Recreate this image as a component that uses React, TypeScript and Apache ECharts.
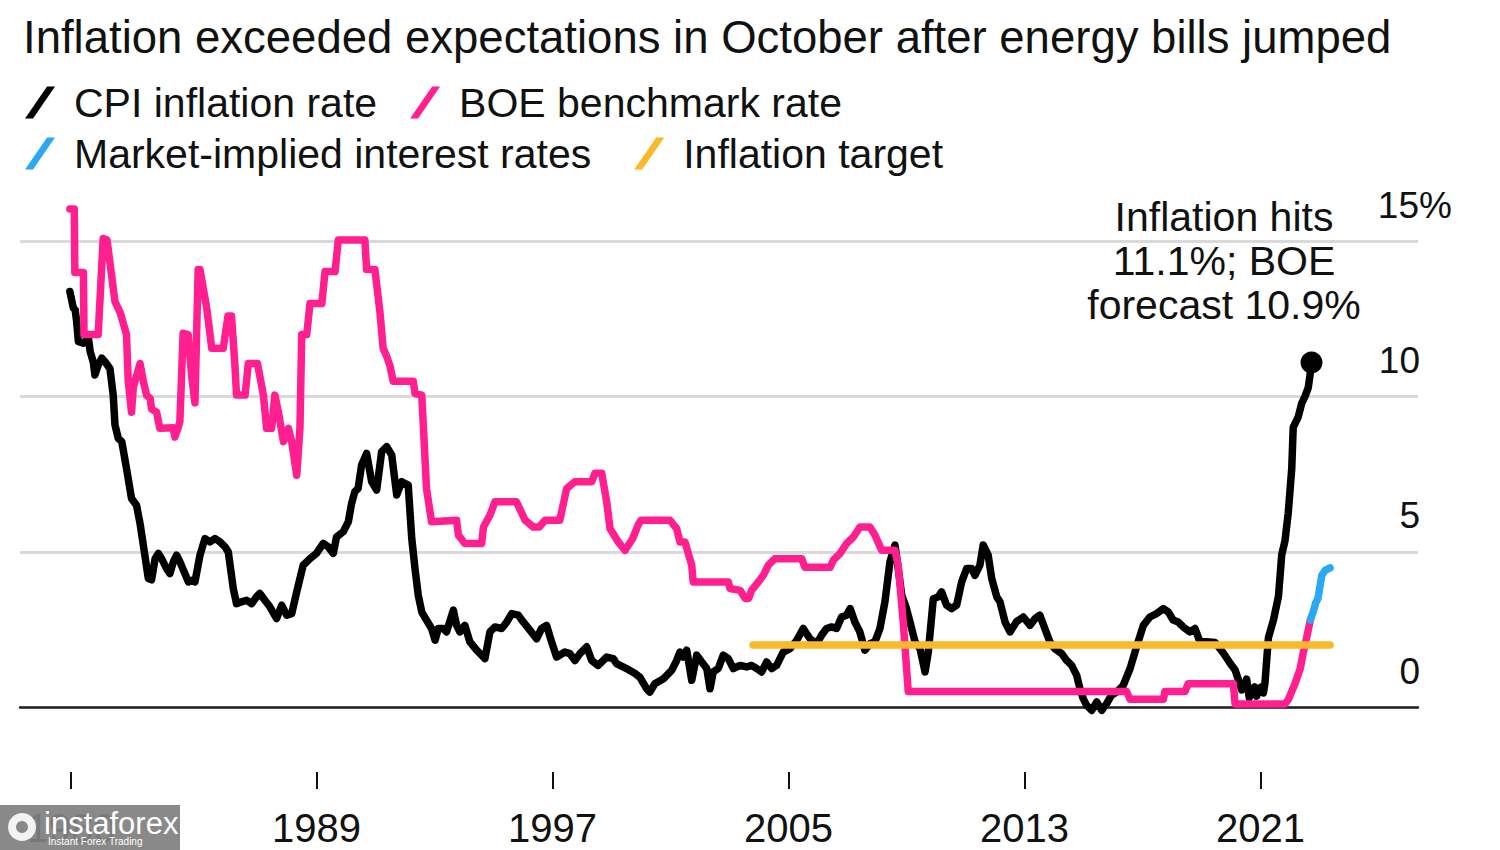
import React, { useEffect, useRef } from 'react';
import * as echarts from 'echarts';

const FONT = "'Liberation Sans', Arial, Helvetica, sans-serif";

const titleText = 'Inflation exceeded expectations in October after energy bills jumped';
const seriesNames = ['CPI inflation rate', 'BOE benchmark rate', 'Market-implied interest rates', 'Inflation target'];
const seriesColors = ['#000000', '#ff1f8e', '#2aa8f2', '#f9b92b'];
const annotationLines = ['Inflation hits', '11.1%; BOE', 'forecast 10.9%'];

const xTickValues = [1980.68, 1989, 1997, 2005, 2013, 2021];
const xTickLabels = ['1980', '1989', '1997', '2005', '2013', '2021'];
const yTickValues = [0, 5, 10, 15];

// CPI inflation rate, [year, %]
const cpi: number[][] = [
  [1980.64, 13.39], [1980.76, 12.85], [1980.82, 12.8], [1980.87, 12.42], [1980.93, 11.77], [1981.1, 11.72],
  [1981.27, 11.88], [1981.33, 11.45], [1981.43, 11.13], [1981.49, 10.7], [1981.6, 11.02], [1981.72, 11.24],
  [1981.83, 11.13], [1982.0, 10.9], [1982.11, 10.05], [1982.17, 9.09], [1982.28, 8.66], [1982.4, 8.55],
  [1982.56, 7.69], [1982.73, 6.72], [1982.9, 6.5], [1983.02, 5.91], [1983.13, 5.22], [1983.3, 4.14],
  [1983.41, 4.1], [1983.53, 4.78], [1983.64, 4.95], [1983.75, 4.78], [1983.92, 4.46], [1984.03, 4.3],
  [1984.15, 4.68], [1984.26, 4.89], [1984.37, 4.68], [1984.49, 4.41], [1984.66, 4.03], [1984.77, 4.08],
  [1984.88, 4.03], [1985.05, 4.89], [1985.22, 5.43], [1985.39, 5.32], [1985.56, 5.43], [1985.73, 5.32],
  [1985.9, 5.16], [1986.01, 5.0], [1986.18, 3.82], [1986.29, 3.33], [1986.46, 3.39], [1986.63, 3.44],
  [1986.8, 3.33], [1986.97, 3.55], [1987.08, 3.66], [1987.25, 3.44], [1987.42, 3.23], [1987.65, 2.85],
  [1987.82, 3.28], [1987.99, 2.96], [1988.16, 3.01], [1988.33, 3.71], [1988.55, 4.57], [1988.78, 4.78],
  [1989.0, 4.95], [1989.23, 5.27], [1989.4, 5.16], [1989.57, 4.95], [1989.68, 5.48], [1989.91, 5.65],
  [1990.08, 5.97], [1990.19, 6.56], [1990.3, 6.94], [1990.41, 7.04], [1990.53, 7.8], [1990.7, 8.17],
  [1990.87, 7.26], [1991.04, 6.99], [1991.21, 8.23], [1991.38, 8.39], [1991.55, 8.12], [1991.72, 6.83],
  [1991.89, 7.26], [1992.11, 7.15], [1992.23, 5.43], [1992.34, 4.46], [1992.45, 3.6], [1992.57, 3.06],
  [1992.73, 2.8], [1992.9, 2.53], [1993.02, 2.15], [1993.13, 2.53], [1993.3, 2.53], [1993.41, 2.42],
  [1993.64, 3.12], [1993.75, 2.63], [1993.86, 2.42], [1994.03, 2.63], [1994.2, 2.1], [1994.43, 1.83],
  [1994.71, 1.56], [1994.88, 2.42], [1995.05, 2.58], [1995.28, 2.53], [1995.45, 2.74], [1995.62, 3.01],
  [1995.84, 2.96], [1996.01, 2.74], [1996.24, 2.47], [1996.46, 2.2], [1996.63, 2.53], [1996.8, 2.63],
  [1996.97, 2.1], [1997.14, 1.61], [1997.42, 1.77], [1997.59, 1.72], [1997.76, 1.5], [1997.93, 1.72],
  [1998.16, 1.94], [1998.33, 1.5], [1998.55, 1.34], [1998.84, 1.61], [1999.06, 1.56], [1999.17, 1.4],
  [1999.51, 1.24], [1999.8, 1.08], [1999.97, 0.95], [2000.19, 0.59], [2000.3, 0.48], [2000.47, 0.75],
  [2000.76, 0.91], [2001.04, 1.18], [2001.21, 1.5], [2001.32, 1.77], [2001.43, 1.61], [2001.55, 1.83],
  [2001.72, 0.86], [2001.89, 1.67], [2002.06, 1.45], [2002.23, 1.24], [2002.34, 0.59], [2002.45, 1.13],
  [2002.62, 1.24], [2002.79, 1.67], [2002.96, 1.56], [2003.13, 1.24], [2003.36, 1.34], [2003.58, 1.29],
  [2003.75, 1.34], [2003.92, 1.24], [2004.09, 1.13], [2004.26, 1.45], [2004.43, 1.24], [2004.6, 1.34],
  [2004.82, 1.77], [2005.05, 1.88], [2005.28, 2.15], [2005.5, 2.53], [2005.73, 2.2], [2005.96, 2.04],
  [2006.12, 2.31], [2006.29, 2.53], [2006.46, 2.58], [2006.63, 2.53], [2006.8, 2.9], [2006.97, 2.96],
  [2007.09, 3.17], [2007.25, 2.74], [2007.42, 2.42], [2007.59, 1.83], [2007.76, 2.04], [2007.93, 2.1],
  [2008.1, 2.53], [2008.27, 3.39], [2008.44, 4.68], [2008.61, 5.22], [2008.72, 4.46], [2008.84, 3.6],
  [2009.0, 3.17], [2009.12, 2.74], [2009.29, 2.1], [2009.46, 1.88], [2009.63, 1.13], [2009.74, 1.77],
  [2009.91, 3.49], [2010.08, 3.55], [2010.19, 3.71], [2010.36, 3.28], [2010.53, 3.17], [2010.7, 3.28],
  [2010.87, 4.03], [2011.04, 4.46], [2011.21, 4.46], [2011.32, 4.24], [2011.49, 4.57], [2011.6, 5.22],
  [2011.77, 4.89], [2011.89, 4.14], [2012.06, 3.55], [2012.17, 3.39], [2012.34, 2.74], [2012.51, 2.42],
  [2012.73, 2.75], [2012.96, 2.9], [2013.19, 2.63], [2013.36, 2.85], [2013.52, 2.96], [2013.69, 2.53],
  [2013.86, 2.1], [2014.03, 1.88], [2014.26, 1.72], [2014.43, 1.5], [2014.6, 1.34], [2014.77, 1.02],
  [2014.88, 0.59], [2014.99, 0.27], [2015.11, 0.05], [2015.28, -0.11], [2015.45, 0.16], [2015.62, -0.11],
  [2015.78, 0.1], [2015.95, 0.38], [2016.12, 0.48], [2016.35, 0.7], [2016.58, 1.24], [2016.8, 1.94],
  [2017.03, 2.63], [2017.25, 2.9], [2017.48, 3.01], [2017.71, 3.17], [2017.88, 3.06], [2018.04, 2.8],
  [2018.21, 2.74], [2018.38, 2.58], [2018.61, 2.42], [2018.78, 2.53], [2018.95, 2.1], [2019.17, 2.1],
  [2019.46, 2.08], [2019.74, 1.74], [2019.97, 1.41], [2020.14, 1.19], [2020.28, 0.8], [2020.36, 0.55],
  [2020.45, 0.6], [2020.53, 0.9], [2020.62, 0.3], [2020.7, 0.5], [2020.8, 0.65], [2020.87, 0.35],
  [2020.95, 0.6], [2021.04, 0.65], [2021.1, 0.45], [2021.15, 0.75], [2021.27, 2.24], [2021.44, 2.8],
  [2021.61, 3.57], [2021.72, 4.9], [2021.83, 5.35], [2021.94, 6.24], [2022.06, 7.68], [2022.11, 9.01],
  [2022.28, 9.35], [2022.4, 9.79], [2022.51, 10.01], [2022.62, 10.29], [2022.68, 10.7], [2022.73, 11.1],
];

// Bank of England benchmark rate, [year, %]
const boeRate: number[][] = [
  [1980.64, 16.05], [1980.79, 16.05], [1980.81, 14.0], [1981.1, 14.0], [1981.12, 12.0], [1981.6, 12.0],
  [1981.77, 15.1], [1981.9, 15.05], [1982.17, 13.06], [1982.35, 12.7], [1982.56, 12.0], [1982.62, 10.5],
  [1982.73, 9.5], [1982.79, 10.3], [1983.02, 11.07], [1983.13, 10.5], [1983.24, 10.05], [1983.36, 9.95],
  [1983.41, 9.6], [1983.58, 9.5], [1983.69, 8.98], [1984.14, 9.0], [1984.2, 8.7], [1984.31, 9.0],
  [1984.37, 9.2], [1984.48, 12.04], [1984.65, 12.0], [1984.77, 10.65], [1984.88, 9.8], [1984.99, 14.1],
  [1985.05, 14.1], [1985.28, 12.85], [1985.45, 11.56], [1985.84, 11.56], [1986.0, 12.6], [1986.12, 12.6],
  [1986.23, 11.1], [1986.29, 10.05], [1986.58, 10.05], [1986.69, 11.07], [1987.0, 11.07], [1987.2, 10.05],
  [1987.31, 8.98], [1987.48, 8.98], [1987.59, 10.05], [1987.71, 9.5], [1987.88, 8.55], [1988.05, 8.98],
  [1988.16, 8.55], [1988.33, 7.47], [1988.44, 8.98], [1988.5, 12.0], [1988.67, 12.0], [1988.78, 13.0],
  [1989.18, 13.0], [1989.29, 14.03], [1989.63, 14.03], [1989.74, 15.05], [1990.64, 15.05], [1990.7, 14.1],
  [1990.98, 14.1], [1991.15, 12.74], [1991.26, 11.56], [1991.38, 11.3], [1991.49, 11.0], [1991.6, 10.5],
  [1992.28, 10.5], [1992.34, 10.1], [1992.57, 10.05], [1992.73, 7.04], [1992.9, 5.97], [1993.75, 6.02],
  [1993.81, 5.54], [1994.03, 5.27], [1994.6, 5.27], [1994.66, 5.8], [1994.88, 6.18], [1995.05, 6.61],
  [1995.78, 6.61], [1996.07, 6.02], [1996.35, 5.8], [1996.55, 5.8], [1996.75, 6.02], [1997.25, 6.02],
  [1997.48, 7.04], [1997.76, 7.26], [1998.33, 7.26], [1998.44, 7.53], [1998.67, 7.53], [1998.84, 6.6],
  [1998.95, 5.75], [1999.23, 5.32], [1999.46, 5.05], [1999.72, 5.43], [1999.9, 5.86], [2000.0, 6.02],
  [2000.98, 6.02], [2001.21, 5.75], [2001.32, 5.32], [2001.49, 5.32], [2001.72, 4.57], [2001.77, 4.03],
  [2002.96, 4.03], [2003.02, 3.82], [2003.36, 3.76], [2003.53, 3.5], [2003.65, 3.5], [2003.75, 3.76],
  [2003.98, 4.03], [2004.15, 4.25], [2004.32, 4.57], [2004.54, 4.78], [2005.45, 4.78], [2005.56, 4.5],
  [2006.41, 4.5], [2006.52, 4.73], [2006.75, 4.95], [2006.97, 5.27], [2007.2, 5.48], [2007.42, 5.8],
  [2007.76, 5.8], [2007.93, 5.54], [2008.16, 5.05], [2008.61, 5.05], [2008.72, 4.57], [2008.89, 2.74],
  [2009.06, 0.5], [2016.46, 0.5], [2016.58, 0.25], [2017.71, 0.25], [2017.76, 0.5], [2018.44, 0.5],
  [2018.55, 0.75], [2020.08, 0.75], [2020.14, 0.1], [2021.83, 0.1], [2021.95, 0.25], [2022.06, 0.5],
  [2022.17, 0.75], [2022.26, 1.0], [2022.35, 1.25], [2022.45, 1.75], [2022.57, 2.25], [2022.69, 2.8],
];

// Market-implied interest rates, [year, %]
const marketRates: number[][] = [
  [2022.69, 2.8], [2022.8, 3.1], [2022.87, 3.35], [2022.95, 3.5], [2023.02, 3.9], [2023.08, 4.24],
  [2023.19, 4.4], [2023.36, 4.48],
];

// Inflation target, [year, %]
const inflationTarget: number[][] = [[2003.8, 2], [2023.36, 2]];

const X_MIN = 1978.95;
const X_MAX = 2026.34;

const slashIcon = 'path://M0,32 L22,0 L30,0 L8,32 Z';

function buildOption() {
  const legendCommon = {
    orient: 'horizontal',
    icon: slashIcon,
    itemWidth: 30,
    itemHeight: 32,
    selectedMode: false,
    textStyle: { fontSize: 41, color: '#111', fontFamily: FONT, padding: [0, 0, 0, 14] },
  };
  const lineCommon = {
    type: 'line',
    showSymbol: false,
    symbol: 'none',
    clip: false,
    silent: true,
    lineStyle: { width: 7.5, cap: 'round', join: 'round' },
    emphasis: { disabled: true },
  };
  return {
    animation: false,
    backgroundColor: '#ffffff',
    textStyle: { fontFamily: FONT },
    title: {
      text: titleText,
      left: 18,
      top: 9,
      textStyle: { fontSize: 45.5, fontWeight: 'normal', color: '#111', fontFamily: FONT },
    },
    legend: [
      { ...legendCommon, itemGap: 33, left: 20, top: 77, data: [seriesNames[0], seriesNames[1]] },
      { ...legendCommon, itemGap: 43, left: 20, top: 128, data: [seriesNames[2], seriesNames[3]] },
    ],
    grid: { left: 20, right: 82, top: 241.5, bottom: 143, containLabel: false },
    xAxis: [
      {
        type: 'value',
        min: X_MIN,
        max: X_MAX,
        position: 'bottom',
        offset: 65,
        axisLine: { show: false, onZero: false },
        axisTick: { show: true, length: 17, lineStyle: { color: '#111', width: 2 }, customValues: xTickValues },
        axisLabel: {
          customValues: xTickValues,
          formatter: (v: number) => {
            const i = xTickValues.findIndex((t) => Math.abs(t - v) < 0.01);
            return i >= 0 ? xTickLabels[i] : '';
          },
          fontSize: 40,
          lineHeight: 40,
          margin: 36,
          color: '#111',
          fontFamily: FONT,
        },
        splitLine: { show: false },
      },
      {
        type: 'value',
        min: X_MIN,
        max: X_MAX,
        position: 'bottom',
        offset: 0,
        axisLine: { show: true, onZero: false, lineStyle: { color: '#222', width: 2.5 } },
        axisTick: { show: false },
        axisLabel: { show: false },
        splitLine: { show: false },
      },
    ],
    yAxis: {
      type: 'value',
      position: 'right',
      min: yTickValues[0],
      max: yTickValues[yTickValues.length - 1],
      interval: 5,
      axisLine: { show: false },
      axisTick: { show: false },
      splitLine: { show: true, lineStyle: { color: '#d9d9d9', width: 3 } },
      axisLabel: {
        inside: true,
        margin: -2,
        verticalAlign: 'bottom',
        formatter: (v: number) => (v === 15 ? '{n|15}{p|%}' : '{n|' + v + '}'),
        rich: {
          n: { fontSize: 37, lineHeight: 72, color: '#111', fontFamily: FONT, align: 'left' },
          p: { fontSize: 37, lineHeight: 72, color: '#111', fontFamily: FONT, align: 'left', width: 1 },
        },
      },
    },
    series: [
      { ...lineCommon, name: seriesNames[0], data: cpi, color: seriesColors[0], z: 3 },
      { ...lineCommon, name: seriesNames[1], data: boeRate, color: seriesColors[1], z: 4 },
      { ...lineCommon, name: seriesNames[2], data: marketRates, color: seriesColors[2], z: 5 },
      { ...lineCommon, name: seriesNames[3], data: inflationTarget, color: seriesColors[3], z: 6 },
      {
        type: 'scatter',
        name: 'latest',
        data: [cpi[cpi.length - 1]],
        symbol: 'circle',
        symbolSize: 22,
        itemStyle: { color: '#000', opacity: 1 },
        silent: true,
        z: 7,
        clip: false,
      },
    ],
    graphic: [
      {
        type: 'text',
        x: 1224,
        y: 195,
        silent: true,
        style: {
          text: annotationLines.join('\n'),
          fontSize: 41,
          lineHeight: 44,
          fontFamily: FONT,
          fill: '#111',
          textAlign: 'center',
          textVerticalAlign: 'top',
        },
      },
      {
        type: 'rect',
        shape: { x: 0, y: 805, width: 180, height: 45 },
        style: { fill: 'rgba(128,128,128,0.93)' },
        silent: true,
        z: 100,
        zlevel: 1,
      },
      {
        type: 'ring',
        shape: { cx: 22, cy: 827, r: 14, r0: 6 },
        style: { fill: 'rgba(255,255,255,0.9)' },
        silent: true,
        z: 101,
        zlevel: 1,
      },
      {
        type: 'text',
        x: 44,
        y: 808,
        silent: true,
        z: 101,
        zlevel: 1,
        style: { text: 'instaforex', fontSize: 31, fontFamily: FONT, fill: '#ffffff' },
      },
      {
        type: 'text',
        x: 48,
        y: 836,
        silent: true,
        z: 101,
        zlevel: 1,
        style: { text: 'Instant Forex Trading', fontSize: 10, fontFamily: FONT, fill: '#ffffff' },
      },
    ],
  };
}

export default function App() {
  const ref = useRef<HTMLDivElement>(null);
  useEffect(() => {
    if (!ref.current) return;
    const chart = echarts.init(ref.current, null, { renderer: 'svg' });
    chart.setOption(buildOption() as any);
    return () => chart.dispose();
  }, []);
  return (
    <div
      ref={ref}
      style={{ position: 'fixed', left: 0, top: 0, width: 1500, height: 850, background: '#ffffff' }}
    />
  );
}
